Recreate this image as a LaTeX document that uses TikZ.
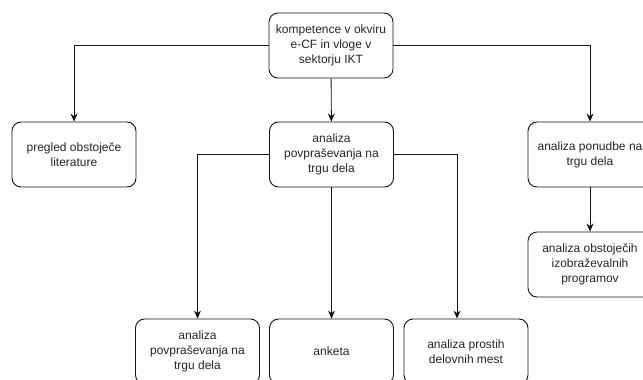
\documentclass[tikz,border=0pt]{standalone}
\usepackage{fontspec}
\setmainfont{Liberation Sans}
\usepackage{tikz}
\usetikzlibrary{arrows.meta,positioning,calc}
\definecolor{boxtext}{RGB}{38, 38, 38}
\definecolor{boxborder}{RGB}{20, 20, 20}

\begin{document}
\begin{tikzpicture}[
        x=1pt, y=-1pt,
        box/.style={draw=boxborder, fill=white, line width=0.9pt, rounded corners=9pt, minimum width=124pt, minimum height=65pt, align=center, text=boxtext, font=\fontsize{12}{15}\selectfont},
        rel/.style={line width=0.9pt, draw=boxborder, -{Stealth[length=8pt,width=7pt]}}
    ]
        \useasboundingbox[fill=white] (0,0) rectangle (643,380);

        % Top Box
        \node[box] (bxKompetence) at (331, 45.5) {kompetence v okviru\\e-CF in vloge v\\sektorju IKT};

        % Second Row
        \node[box] (bxPregled) at (74, 154.5) {pregled obstoječe\\literature};
        \node[box] (bxPovpras) at (331.5, 154.5) {analiza\\povpraševanja na\\trgu dela};
        \node[box] (bxPonudba) at (590, 154.5) {analiza ponudbe na\\trgu dela};

        % Under Ponudba
        \node[box] (bxProgrami) at (590, 264.5) {analiza obstoječih\\izobraževalnih\\programov};

        % Bottom Row
        \node[box] (bxTrg) at (197.5, 351.5) {analiza\\povpraševanja na\\trgu dela};
        \node[box] (bxAnketa) at (331.5, 351.5) {anketa};
        \node[box] (bxMesta) at (466, 351.5) {analiza prostih\\delovnih mest};

        % Connections
        \draw[rel] (bxKompetence.west) -| (bxPregled.north);
        \draw[rel] (bxKompetence.east) -| (bxPonudba.north);
        \draw[rel] (bxKompetence) -- (bxPovpras);
        \draw[rel] (bxPonudba) -- (bxProgrami);
        \draw[rel] (bxPovpras.west) -| (bxTrg.north);
        \draw[rel] (bxPovpras) -- (bxAnketa);
        \draw[rel] (bxPovpras.east) -| ([xshift=-9pt]bxMesta.north);
    \end{tikzpicture}
\end{document}
